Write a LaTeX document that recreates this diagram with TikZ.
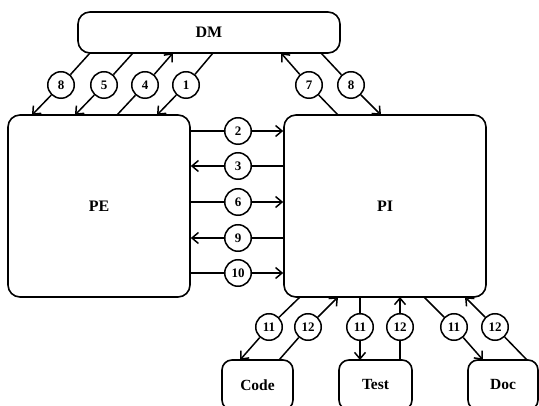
\documentclass[tikz,border=0pt]{standalone}
\usepackage{fontspec}
\setmainfont{Liberation Serif}
\usetikzlibrary{arrows.meta}
\begin{document}
\begin{tikzpicture}[x=1pt,y=-1pt,
  box/.style={draw,line width=1.6pt,rounded corners=12pt,inner sep=0pt,font=\fontsize{16}{16}\selectfont\bfseries},
  smallbox/.style={draw,line width=1.6pt,rounded corners=10pt,inner sep=0pt,font=\fontsize{15.5}{15.5}\selectfont\bfseries},
  num/.style={draw,circle,line width=1.5pt,minimum size=26.5pt,inner sep=0pt,font=\fontsize{13}{13}\selectfont\bfseries},
  conn/.style={line width=1.5pt},
  arr/.style={conn,-{Straight Barb[length=6.5pt,width=11pt,line width=1.5pt]}}
]
\useasboundingbox (0,0) rectangle (539,406);
\clip (0,0) rectangle (539,406);
% boxes
\node[box,minimum width=262pt,minimum height=41pt] (DM) at (209,32.5) {DM};
\node[box,minimum width=182pt,minimum height=182pt] (PE) at (99,206) {PE};
\node[box,minimum width=202pt,minimum height=182pt] (PI) at (385,206) {PI};
\node[smallbox,minimum width=71pt,minimum height=50pt] (Code) at (257.5,385) {Code};
\node[smallbox,minimum width=73pt,minimum height=50pt] (Test) at (375.5,385) {Test};
\node[smallbox,minimum width=70pt,minimum height=50pt] (Doc) at (503,385) {Doc};
% top circles
\node[num] (c8a) at (61,85) {8};
\node[num] (c5) at (104,85) {5};
\node[num] (c4) at (145,85) {4};
\node[num] (c1) at (186,85) {1};
\node[num] (c7) at (309,85) {7};
\node[num] (c8b) at (351,85) {8};
% horizontal circles
\node[num] (c2) at (238,131) {2};
\node[num] (c3) at (238,166) {3};
\node[num] (c6) at (238,202) {6};
\node[num] (c9) at (238,238) {9};
\node[num] (c10) at (238,273) {10};
% bottom circles
\node[num] (b11a) at (269,327) {11};
\node[num] (b12a) at (308,327) {12};
\node[num] (b11b) at (360,327) {11};
\node[num] (b12b) at (400,327) {12};
\node[num] (b11c) at (454,327) {11};
\node[num] (b12c) at (495,327) {12};
% anchor coordinates on box borders
\coordinate (d8) at (90,53);   \coordinate (p8) at (32,115);
\coordinate (d5) at (133,53);  \coordinate (p5) at (75,115);
\coordinate (d4) at (173,53);  \coordinate (p4) at (117,115);
\coordinate (d1) at (213,53);  \coordinate (p1) at (157,115);
\coordinate (d7) at (281,53);  \coordinate (i7) at (338,115);
\coordinate (d8b) at (321,53); \coordinate (i8) at (381,115);
% DM <-> PE
\draw[arr] (d8) -- (c8a) -- (p8);
\draw[arr] (d5) -- (c5) -- (p5);
\draw[arr] (p4) -- (c4) -- (d4);
\draw[arr] (d1) -- (c1) -- (p1);
% DM <-> PI
\draw[arr] (i7) -- (c7) -- (d7);
\draw[arr] (d8b) -- (c8b) -- (i8);
% PE <-> PI
\draw[arr] (PE.east |- c2) -- (c2) -- (PI.west |- c2);
\draw[arr] (PI.west |- c3) -- (c3) -- (PE.east |- c3);
\draw[arr,line width=2.6pt] (PE.east |- c6) -- (c6) -- (PI.west |- c6);
\draw[arr] (PI.west |- c9) -- (c9) -- (PE.east |- c9);
\draw[arr] (PE.east |- c10) -- (c10) -- (PI.west |- c10);
% PI <-> tools
\coordinate (i11a) at (300,297); \coordinate (t11a) at (240,360);
\coordinate (t12a) at (279,360); \coordinate (i12a) at (338,297);
\coordinate (i11b) at (360,297); \coordinate (t11b) at (360,360);
\coordinate (t12b) at (400,360); \coordinate (i12b) at (400,297);
\coordinate (i11c) at (424,297); \coordinate (t11c) at (483,360);
\coordinate (t12c) at (527,360); \coordinate (i12c) at (465,297);
\draw[arr] (i11a) -- (b11a) -- (t11a);
\draw[arr] (t12a) -- (b12a) -- (i12a);
\draw[arr] (i11b) -- (b11b) -- (t11b);
\draw[arr] (t12b) -- (b12b) -- (i12b);
\draw[arr] (i11c) -- (b11c) -- (t11c);
\draw[arr] (t12c) -- (b12c) -- (i12c);
\end{tikzpicture}
\end{document}
